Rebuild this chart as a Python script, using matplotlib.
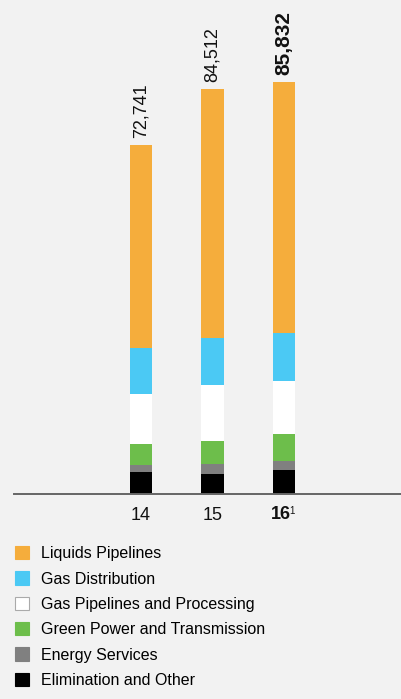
import matplotlib
matplotlib.use("Agg")
import matplotlib.pyplot as plt
from matplotlib.patches import Patch

plt.rcParams['font.family'] = ['Liberation Sans', 'DejaVu Sans']

# data
years = ['14', '15', '16']
totals = ['72,741', '84,512', '85,832']
segments = ['Elimination and Other', 'Energy Services', 'Green Power and Transmission',
            'Gas Pipelines and Processing', 'Gas Distribution', 'Liquids Pipelines']
elim = [4590, 4170, 5000]
energy = [1460, 2090, 1880]
green = [4380, 4800, 5630]
gas_pipe = [10420, 11680, 11050]
gas_dist = [9590, 9800, 10010]
liquids = [42301, 51972, 52261]

colors = ['#000000', '#808080', '#6dbe4b', '#ffffff', '#4bc9f4', '#f5ad3c']
bg = '#f2f2f2'

W, H = 402, 699
fig = plt.figure(figsize=(W / 100, H / 100), dpi=100, facecolor=bg)
# axes placed in pixel terms: baseline at y=494, left edge at x=14
ax = fig.add_axes([14 / W, (H - 494) / H, 1 - 14 / W, 494 / H])
ax.set_facecolor(bg)

x = [0, 1, 2]
bottom = [0, 0, 0]
for vals, c in zip([elim, energy, green, gas_pipe, gas_dist, liquids], colors):
    ax.bar(x, vals, width=0.31, bottom=bottom, color=c, linewidth=0)
    bottom = [b + v for b, v in zip(bottom, vals)]

for i, (xi, top, lab) in enumerate(zip(x, bottom, totals)):
    ax.annotate(lab, (xi, top), xytext=(0, 5), textcoords='offset points',
                rotation=90, ha='center', va='bottom',
                fontsize=15 if i == 2 else 13,
                fontweight='bold' if i == 2 else 'normal', color='#111111')

ax.set_xlim(-1.776, 3.65)
ax.set_ylim(0, 494 * 208.5)

for s in ['top', 'right', 'left']:
    ax.spines[s].set_visible(False)
ax.spines['bottom'].set_color('#666666')
ax.spines['bottom'].set_linewidth(1.4)
ax.set_yticks([])
ax.set_xticks(x)
ax.set_xticklabels(['14', '15', ''], fontsize=13, color='#111111')
ax.tick_params(axis='x', length=0, pad=9)
# last year label: bold with footnote mark
ax.annotate(years[2], (2, 0), xytext=(-2.5, -15), textcoords='offset points',
            fontsize=13, fontweight='bold', ha='center', va='center', color='#111111')
ax.annotate('1', (2, 0), xytext=(3.6, -12.3), textcoords='offset points',
            fontsize=7, ha='left', va='center', color='#111111')

handles = [Patch(facecolor=c, edgecolor='#aaaaaa' if c == '#ffffff' else c, linewidth=0.8)
           for c in colors[::-1]]
fig.legend(handles, segments[::-1], loc='upper left',
           bbox_to_anchor=(15 / W, 1 - 546 / H), frameon=False, fontsize=11.5,
           handlelength=0.9, handleheight=0.9, handletextpad=0.75,
           labelspacing=0.64, borderpad=0, borderaxespad=0)

fig.savefig('out.png', dpi=100, facecolor=bg)
